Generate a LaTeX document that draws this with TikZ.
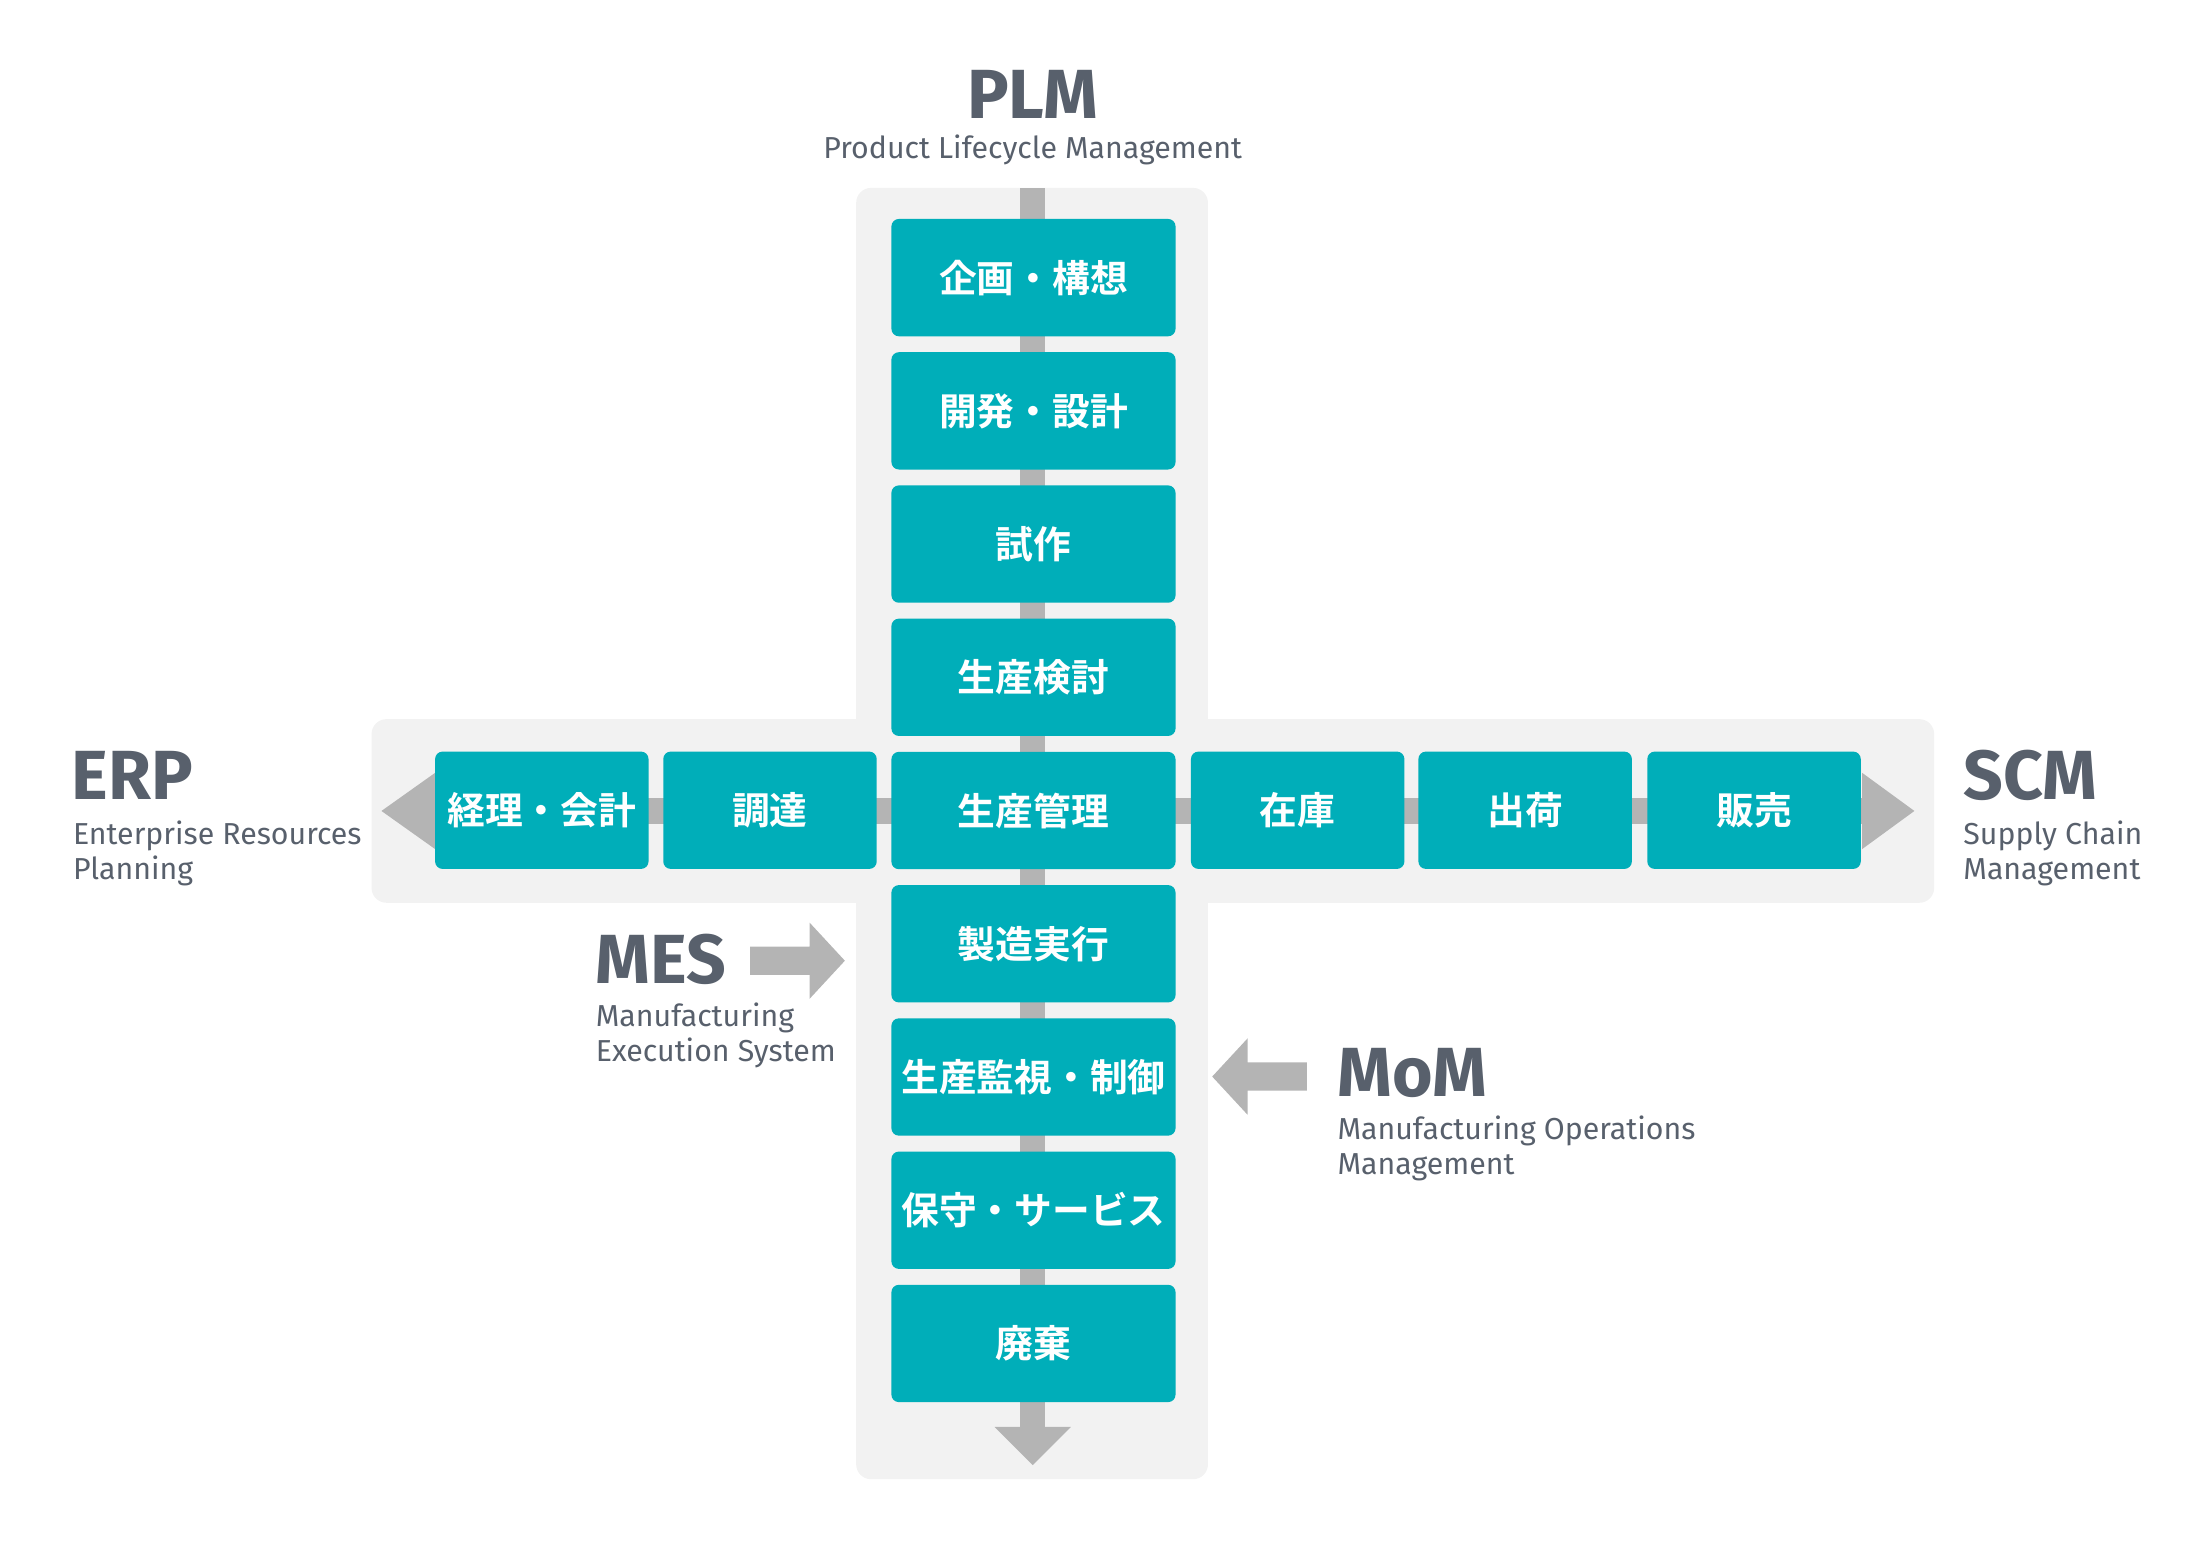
\documentclass[tikz,border=0pt]{standalone}
\usepackage{fontspec}
\setmainfont{Fira Sans}
\newfontfamily\cjk{Noto Sans CJK JP}[BoldFont={* Bold}]
\definecolor{teal}{RGB}{0,174,185}
\definecolor{bgg}{RGB}{242,242,242}
\definecolor{arr}{RGB}{180,180,180}
\definecolor{dk}{RGB}{88,96,108}
\begin{document}
\begin{tikzpicture}[x=0.01cm,y=-0.01cm,
  box/.style={fill=teal,rounded corners=1.5pt,text=white,font=\cjk\bfseries\fontsize{7.6}{8}\selectfont,inner sep=0pt,anchor=center},
  big/.style={text=dk,font=\bfseries\fontsize{14}{14}\selectfont,inner sep=0pt},
  sub/.style={text=dk,font=\fontsize{6.1}{7.1}\selectfont,inner sep=0pt,align=left}]
\useasboundingbox (0,0) rectangle (1560,1094);
\fill[bgg,rounded corners=3pt] (606,133) rectangle (855,1047);
\fill[bgg,rounded corners=3pt] (263,509) rectangle (1369,639);
% bars
\fill[arr] (722,133) rectangle (740,1010);
\fill[arr] (704,1010) -- (758,1010) -- (731,1037) -- cycle;
\fill[arr] (308,565) rectangle (1318,583);
\fill[arr] (308,547) -- (308,601) -- (270,574) -- cycle;
\fill[arr] (1318,547) -- (1318,601) -- (1355,574) -- cycle;
% MES arrow
\fill[arr] (531,670) -- (573,670) -- (573,653) -- (598,680) -- (573,707) -- (573,690) -- (531,690) -- cycle;
% MoM arrow
\fill[arr] (925,752) -- (883,752) -- (883,735) -- (858,762) -- (883,789) -- (883,772) -- (925,772) -- cycle;
% vertical boxes
\foreach \n/\t [count=\i from 0] in {v1/企画・構想,v2/開発・設計,v3/試作,v4/生産検討,v5/生産管理,v6/製造実行,v7/生産監視・制御,v8/保守・サービス,v9/廃棄}{
  \node[box,minimum width=2.01cm,minimum height=0.83cm] (\n) at (731.5,196.5+94.3*\i) {\t};
}
\foreach \n/\t/\x in {h1/経理・会計/383.5,h2/調達/545,h3/在庫/918.5,h4/出荷/1079.5,h5/販売/1241.5}{
  \node[box,minimum width=1.51cm,minimum height=0.83cm] (\n) at (\x,573.5) {\t};
}
% labels
\node[big,anchor=base] (plm) at (731,84) {PLM};
\node[sub,anchor=base] (plms) at (731,112) {Product Lifecycle Management};
\node[big,anchor=base west] (erp) at (50,566) {ERP};
\node[sub,anchor=north west] (erps) at (51,580) {Enterprise Resources\\Planning};
\node[big,anchor=base west] (scm) at (1389,566) {SCM};
\node[sub,anchor=north west] (scms) at (1389,580) {Supply Chain\\Management};
\node[big,anchor=base west] (mes) at (421,696) {MES};
\node[sub,anchor=north west] (mess) at (421,709) {Manufacturing\\Execution System};
\node[big,anchor=base west] (mom) at (946,776) {MoM};
\node[sub,anchor=north west] (moms) at (946,789) {Manufacturing Operations\\Management};
\end{tikzpicture}
\end{document}
